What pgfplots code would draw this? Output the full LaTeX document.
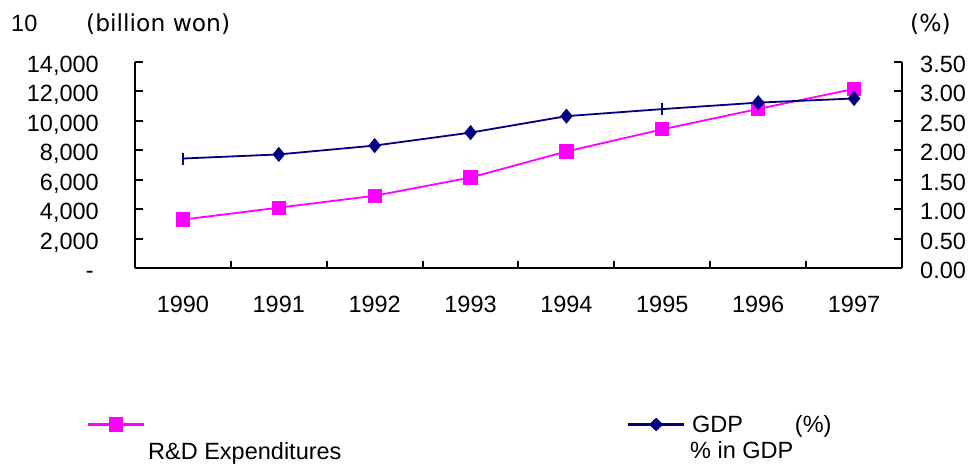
\documentclass[border=0pt]{standalone}
\usepackage{pgfplots}
\pgfplotsset{compat=1.18}
\usepackage{fontspec}
\setmainfont{Liberation Sans}
\newfontfamily\dejavu{DejaVu Sans}
\definecolor{rdmag}{RGB}{255,0,255}
\definecolor{gdpnavy}{RGB}{0,0,128}

% R&D expenditures (billion won) and R&D as % of GDP, 1990-1997
\pgfplotstableread{
x rd gdp
0 3290 1.86
1 4100 1.93
2 4910 2.08
3 6150 2.30
4 7920 2.58
5 9420 2.70
6 10810 2.81
7 12170 2.88
}\datatab

\pgfplotsset{
  legend image code/.code={%
    \fill[#1] (0pt,-0.9pt) rectangle (54pt,0.9pt);
    \draw[#1, only marks] plot coordinates {(27pt,0pt)};},
  base/.style={
    width=767pt, height=206pt, scale only axis,
    xmin=-0.5, xmax=7.5,
    scaled y ticks=false,
    tick align=inside,
    major tick length=8pt,
    minor tick length=7pt,
    tick style={black, line width=2pt},
    axis line style={line width=2pt},
    font=\fontsize{23.5}{25}\selectfont,
    clip=false,
    legend style={draw=none, fill=none, inner sep=0pt, column sep=6pt},
    legend cell align=left,
  },
}

\begin{document}
\begin{tikzpicture}
\useasboundingbox (-135pt,-197pt) rectangle (835pt,268pt);
\begin{axis}[base,
  axis y line*=left, axis x line*=bottom,
  ymin=0, ymax=14000,
  ytick={0,2000,...,14000},
  yticklabels={{-\hspace*{5pt}},{2,000},{4,000},{6,000},{8,000},{10,000},{12,000},{14,000}},
  yticklabel style={anchor=east, inner sep=0pt, xshift=-36pt, yshift=-2pt,
    text height=17pt, text depth=0pt},
  xtick={0,...,7},
  xticklabels={1990,1991,1992,1993,1994,1995,1996,1997},
  xticklabel style={anchor=north, inner sep=0pt, yshift=-28pt},
  major x tick style={draw=none},
  minor xtick={0.5,1.5,...,6.5},
  legend style={at={(-0.0613,-0.704)}, anchor=north west},
]
\addplot[rdmag, line width=1.8pt, mark=square*, mark size=6.2pt,
  mark options={solid}] table[x=x, y=rd] {\datatab};
\addlegendentry{\vphantom{(GDP}}
\end{axis}
\begin{axis}[base,
  axis y line*=right, axis x line=none,
  ymin=0, ymax=3.5,
  ytick={0,0.5,...,3.5},
  yticklabels={0.00,0.50,1.00,1.50,2.00,2.50,3.00,3.50},
  yticklabel style={anchor=west, inner sep=0pt, xshift=18pt, yshift=-2pt,
    text height=17pt, text depth=0pt},
  legend style={at={(0.6428,-0.704)}, anchor=north west},
]
\addlegendimage{gdpnavy, line width=1.8pt, mark=diamond*, mark size=6.2pt,
  mark options={solid, xscale=1.25, yscale=0.9}}
\addlegendentry{GDP\hspace{52pt}(\%)}
\addplot[gdpnavy, line width=1.8pt, mark=diamond*, mark size=6.2pt,
  mark indices={2,3,4,5,7,8},
  mark options={solid, xscale=1.1}, forget plot]
  table[x=x, y=gdp] {\datatab};
\addplot[gdpnavy, only marks, mark=|, mark size=6pt,
  mark options={line width=1.8pt}, mark indices={1,6}, forget plot]
  table[x=x, y=gdp] {\datatab};
\end{axis}
\begin{scope}[font=\fontsize{23.5}{25}\selectfont, inner sep=0pt]
\node[anchor=base west] at (-124pt,236pt) {10};
\node[anchor=base west, font=\dejavu\fontsize{23.4}{25}\selectfont] at (-49pt,236pt) {(billion won)};
\node[anchor=base west, font=\dejavu\fontsize{23.4}{25}\selectfont] at (775pt,236pt) {(\%)};
\node[anchor=base west] at (13pt,-192pt) {R\&D Expenditures};
\node[anchor=base west] at (555pt,-191pt) {\% in GDP};
\end{scope}
\end{tikzpicture}
\end{document}
